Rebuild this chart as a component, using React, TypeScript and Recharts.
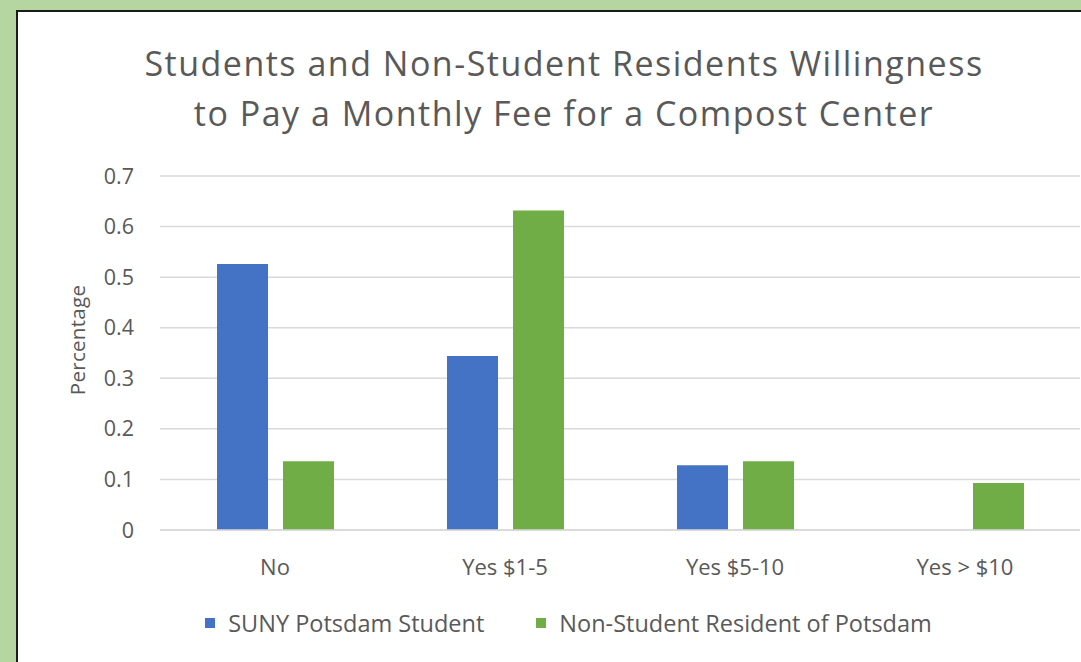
import { BarChart, Bar, XAxis, YAxis, CartesianGrid, Label } from 'recharts'

const categories = ['No', 'Yes $1-5', 'Yes $5-10', 'Yes > $10']
const studentValues = [0.526, 0.344, 0.128, 0]
const residentValues = [0.136, 0.632, 0.136, 0.093]
const yTicks = [0, 0.1, 0.2, 0.3, 0.4, 0.5, 0.6, 0.7]

const series = [
  { key: 'student', name: 'SUNY Potsdam Student', color: '#4472c4' },
  { key: 'resident', name: 'Non-Student Resident of Potsdam', color: '#70ad47' },
]

const data = categories.map((c, i) => ({
  category: c,
  student: studentValues[i],
  resident: residentValues[i],
}))

const FONT = '"Open Sans", sans-serif'
const TEXT = '#595959'

// rotated axis title, a bit above the plot's middle like the original
const YTitle = (props: any) => {
  const { viewBox } = props
  const x = 77
  const y = viewBox.y + viewBox.height / 2 - 13
  return (
    <text
      x={x}
      y={y}
      transform={`rotate(-90, ${x}, ${y})`}
      textAnchor="middle"
      dominantBaseline="central"
      fill={TEXT}
      fontSize={20.5}
      fontFamily={FONT}
      letterSpacing={0.3}
    >
      Percentage
    </text>
  )
}

export default function App() {
  return (
    <div
      style={{
        position: 'fixed',
        left: 0,
        top: 0,
        width: 1081,
        height: 662,
        background: '#b5d6a0',
        overflow: 'hidden',
        fontFamily: FONT,
      }}
    >
      {/* white chart panel, cut off at right and bottom */}
      <div
        style={{
          position: 'absolute',
          left: 16,
          top: 10,
          width: 1100,
          height: 700,
          background: '#fff',
          border: '2px solid #1b1b1b',
        }}
      />

      {/* title */}
      <div
        style={{
          position: 'absolute',
          left: 0,
          top: 38,
          width: 1128,
          textAlign: 'center',
          color: TEXT,
          fontSize: 34,
          letterSpacing: 1.5,
          lineHeight: '50px',
        }}
      >
        Students and Non-Student Residents Willingness
        <br />
        to Pay a Monthly Fee for a Compost Center
      </div>

      <div style={{ position: 'absolute', left: 0, top: 0 }}>
        <BarChart
          width={1081}
          height={662}
          data={data}
          margin={{ top: 176, right: 1, left: 0, bottom: 102 }}
          barGap={15}
          barSize={51}
        >
          <CartesianGrid vertical={false} stroke="#d9d9d9" strokeWidth={1.5} />
          <XAxis
            dataKey="category"
            height={30}
            axisLine={{ stroke: '#d9d9d9', strokeWidth: 1.5 }}
            tickLine={false}
            tickMargin={23}
            tick={{ fill: TEXT, fontSize: 22, fontFamily: FONT }}
          />
          <YAxis
            width={160}
            domain={[0, 0.7]}
            ticks={yTicks}
            axisLine={false}
            tickLine={false}
            tickSize={0}
            tickMargin={26}
            tick={{ fill: TEXT, fontSize: 21.5, fontFamily: FONT }}
          >
            <Label content={YTitle} />
          </YAxis>
          {series.map((s) => (
            <Bar
              key={s.key}
              dataKey={s.key}
              name={s.name}
              fill={s.color}
              isAnimationActive={false}
            />
          ))}
        </BarChart>
      </div>

      {/* legend */}
      <div
        style={{
          position: 'absolute',
          left: 0,
          top: 610,
          width: 1137,
          display: 'flex',
          justifyContent: 'center',
          gap: 52,
          color: TEXT,
          fontSize: 23.5,
          lineHeight: '26px',
        }}
      >
        {series.map((s) => (
          <div key={s.key} style={{ display: 'flex', alignItems: 'center', gap: 13 }}>
            <span style={{ width: 10, height: 10, background: s.color, display: 'inline-block' }} />
            <span>{s.name}</span>
          </div>
        ))}
      </div>
    </div>
  )
}
